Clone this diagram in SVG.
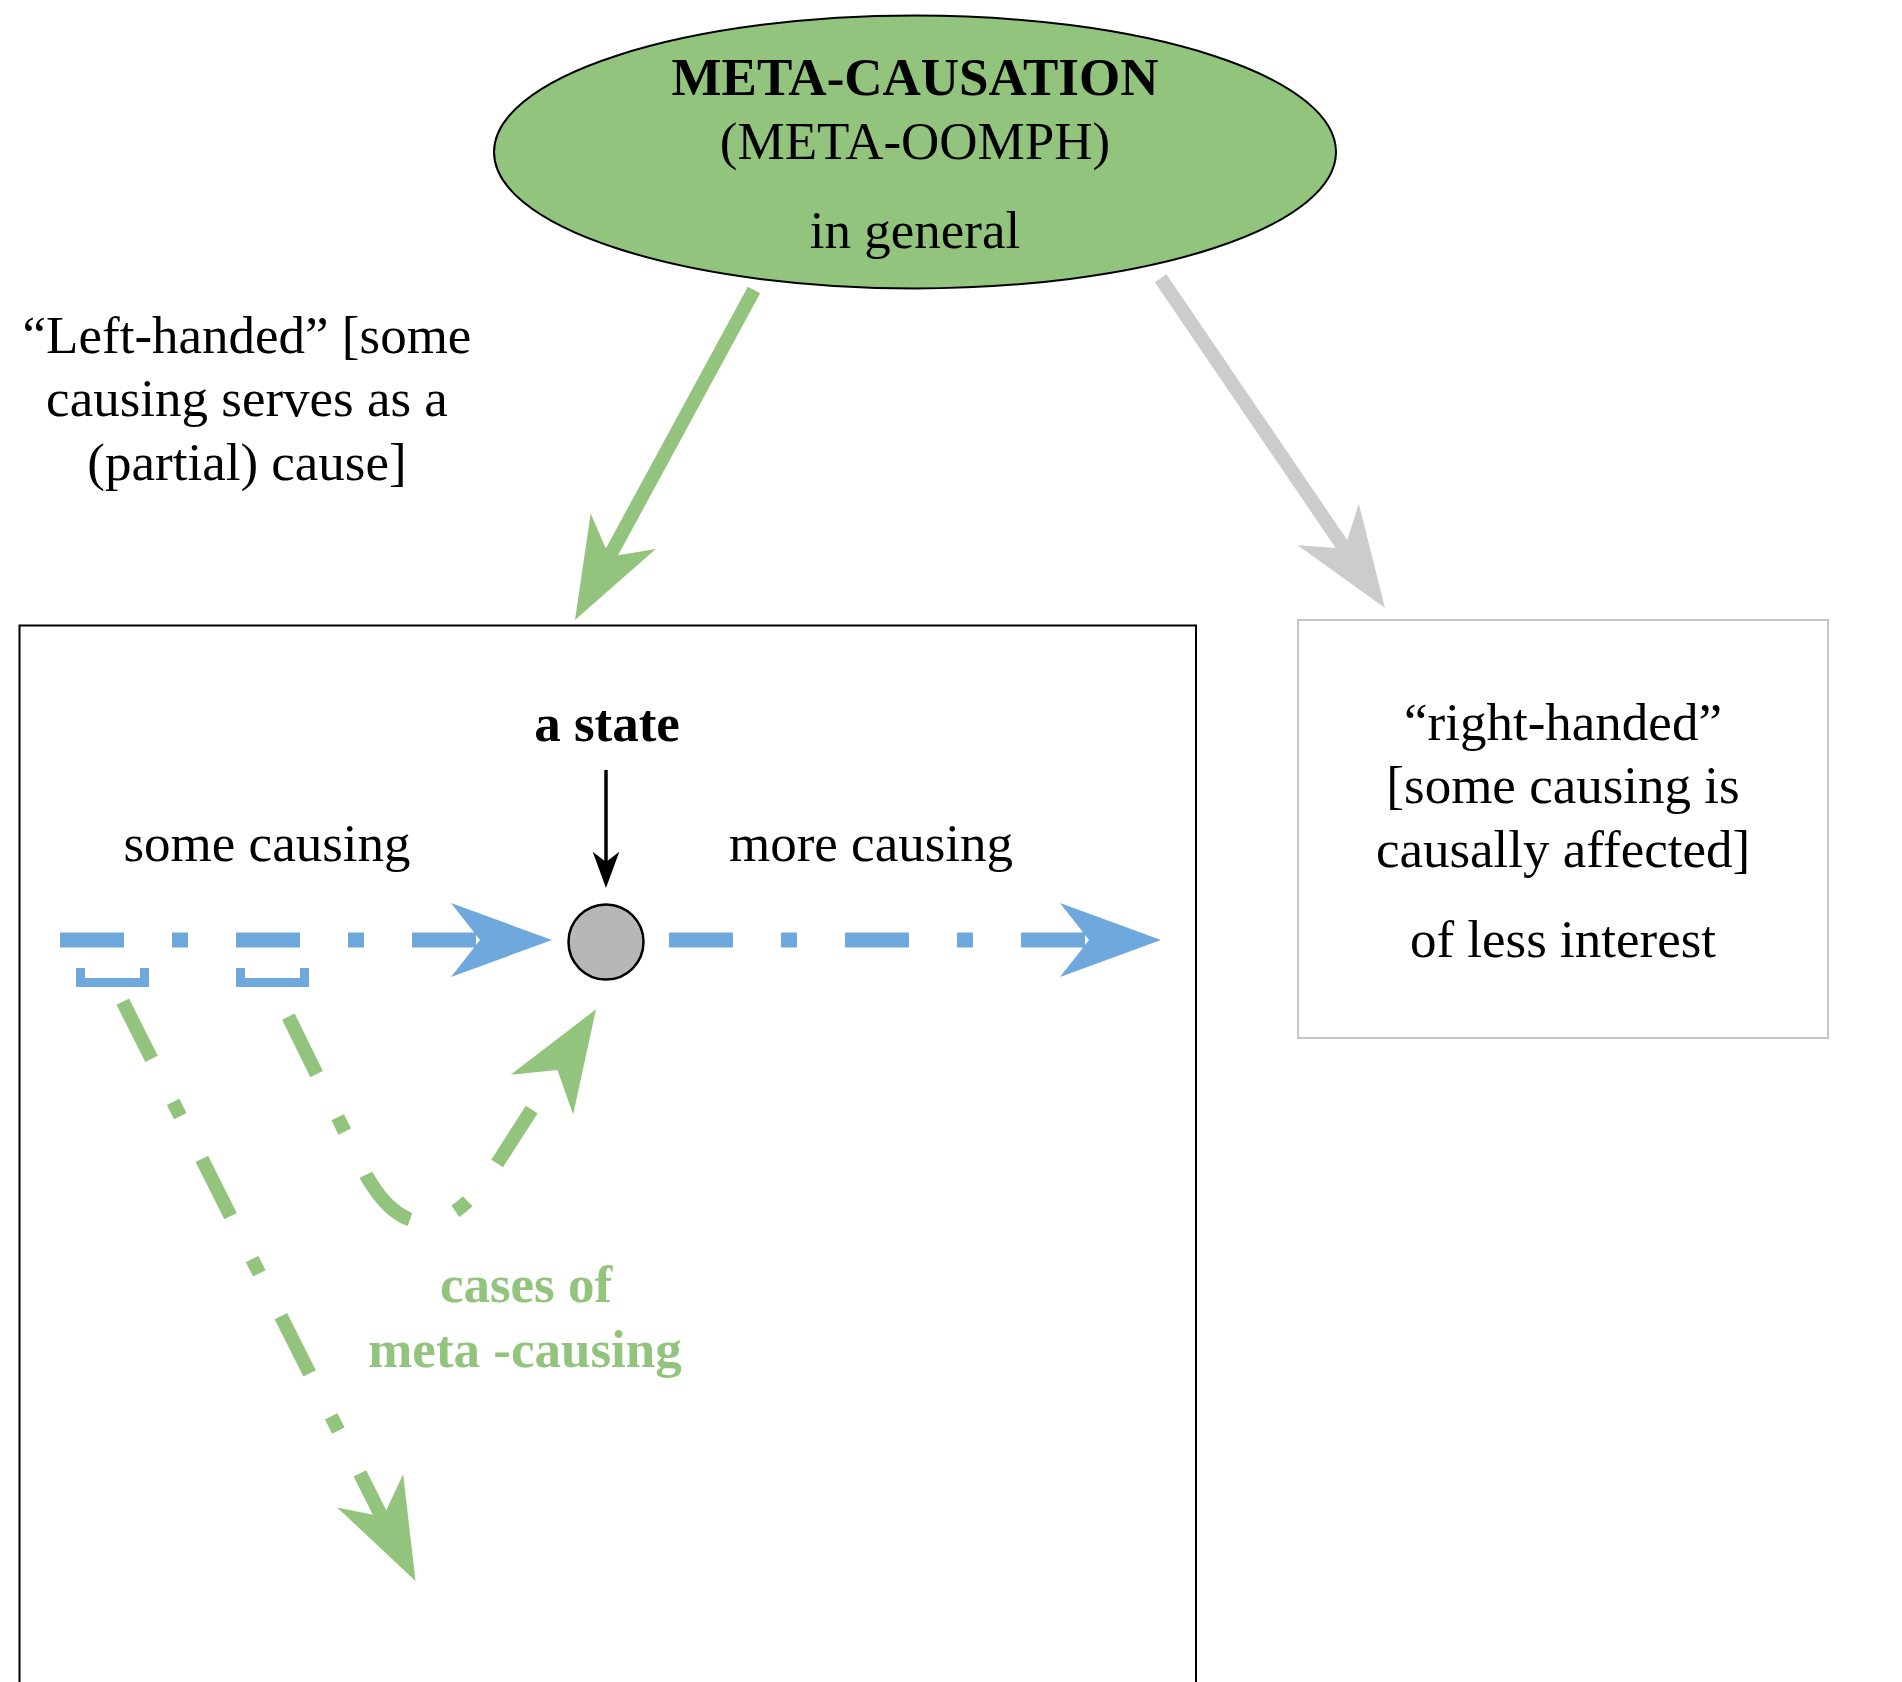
<svg xmlns="http://www.w3.org/2000/svg" xmlns:xlink="http://www.w3.org/1999/xlink" width="1902" height="1682" viewBox="0 0 1902 1682">
<style>
  text { font-family: "Liberation Serif", "Times New Roman", serif; font-size: 53px; fill: #000; text-anchor: middle; }
  .b { font-weight: bold; }
  .g { fill: #93C47D; }
  .dd { fill: none; stroke-dasharray: 64 48 16 48; stroke-linecap: butt; }
  .blue { stroke: #6FA8DC; stroke-width: 15; }
  .green { stroke: #93C47D; stroke-width: 14; }
  .hb { fill: #6FA8DC; }
  .hg { fill: #93C47D; }
  .hgr { fill: #CCCCCC; }
</style>
<defs>
  <path id="head" d="M0,0 L-101,-37 L-72,0 L-101,37 Z"/>
</defs>
<rect x="0" y="0" width="1902" height="1682" fill="#ffffff"/>

<g id="node-meta-causation">
  <ellipse cx="915" cy="152" rx="421" ry="136.5" fill="#93C47D" stroke="#000" stroke-width="2"/>
  <text x="915" y="95" class="b">META-CAUSATION</text>
  <text x="915" y="159">(META-OOMPH)</text>
  <text x="915" y="248">in general</text>
</g>

<g id="node-left-label">
  <text x="247" y="353">“Left-handed” [some</text>
  <text x="247" y="416">causing serves as a</text>
  <text x="247" y="480">(partial) cause]</text>
</g>

<g id="node-left-box">
  <rect x="19.5" y="625.5" width="1176.5" height="1100" fill="none" stroke="#000" stroke-width="2"/>
</g>

<g id="node-right-box">
  <rect x="1298" y="620" width="530" height="418" fill="none" stroke="#C6C6C6" stroke-width="2"/>
  <text x="1563" y="740">“right-handed”</text>
  <text x="1563" y="803">[some causing is</text>
  <text x="1563" y="867">causally affected]</text>
  <text x="1563" y="957">of less interest</text>
</g>

<g id="node-state">
  <text x="607" y="741" class="b">a state</text>
  <circle cx="606" cy="942" r="37.5" fill="#B7B7B7" stroke="#000" stroke-width="2.5"/>
</g>

<g id="labels">
  <text x="267" y="861">some causing</text>
  <text x="871" y="861">more causing</text>
  <text x="526" y="1302" class="b g">cases of</text>
  <text x="525" y="1367" class="b g">meta -causing</text>
</g>

<g id="brackets" fill="none" stroke="#6FA8DC" stroke-width="9">
  <path d="M80.5,968 V982.5 H144.5 V968"/>
  <path d="M240.5,968 V982.5 H304.5 V968"/>
</g>

<g id="connectors">
  <!-- meta-causation to left box (green) -->
  <line x1="754" y1="290" x2="601.2" y2="571.7" stroke="#93C47D" stroke-width="14"/>
  <use xlink:href="#head" href="#head" class="hg" transform="translate(575,620) rotate(118.5)"/>
  <!-- meta-causation to right box (gray) -->
  <line x1="1160.6" y1="278.3" x2="1354" y2="562.5" stroke="#CCCCCC" stroke-width="14"/>
  <use xlink:href="#head" href="#head" class="hgr" transform="translate(1385,608) rotate(55.8)"/>
  <!-- a state pointer -->
  <line x1="606" y1="770" x2="606" y2="876" stroke="#000" stroke-width="3.5"/>
  <use xlink:href="#head" href="#head" fill="#000" transform="translate(606,888) rotate(90) scale(0.36)"/>
  <!-- some causing -> state -->
  <path class="dd blue" d="M60,940 H477"/>
  <use xlink:href="#head" href="#head" class="hb" transform="translate(552,940)"/>
  <!-- state -> more causing -->
  <path class="dd blue" d="M669,940 H1086"/>
  <use xlink:href="#head" href="#head" class="hb" transform="translate(1161,940)"/>
  <!-- meta-causing A (long) -->
  <path class="dd green" d="M122.8,1001.7 L388.6,1530.6"/>
  <use xlink:href="#head" href="#head" class="hg" transform="translate(415.5,1581) rotate(63.3)"/>
  <!-- meta-causing B (to state) -->
  <path class="dd green" d="M288.4,1016.7 L366,1175 C407.7,1249 456.2,1227.2 494,1168.3 L554.5,1074"/>
  <use xlink:href="#head" href="#head" class="hg" transform="translate(596,1009.3) rotate(-57.6)"/>
</g>
</svg>
